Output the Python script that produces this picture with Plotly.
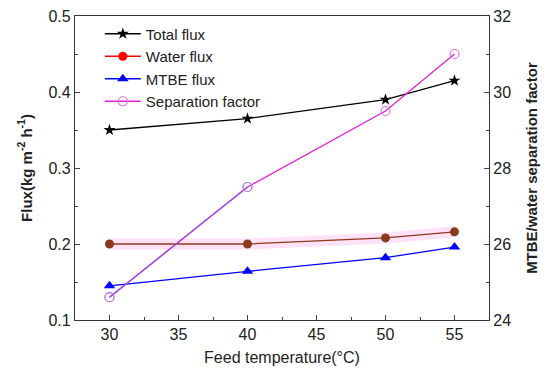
import plotly.graph_objects as go

temps = [30, 40, 50, 55]
total_flux = [0.350, 0.365, 0.390, 0.415]
water_flux = [0.200, 0.200, 0.208, 0.216]
mtbe_flux = [0.145, 0.164, 0.182, 0.196]
sep_factor = [24.6, 27.5, 29.5, 31.0]

FONT = "Liberation Sans, Arial, sans-serif"
fig = go.Figure()

# pink glow behind water flux line
fig.add_trace(go.Scatter(x=temps, y=water_flux, mode="lines", line=dict(color="rgba(255,170,235,0.35)", width=11),
                         showlegend=False, hoverinfo="skip"))
fig.add_trace(go.Scatter(x=temps, y=total_flux, mode="lines+markers", name="Total flux",
                         line=dict(color="black", width=1.3), marker=dict(symbol="star", size=9, color="black")))
fig.add_trace(go.Scatter(x=temps, y=water_flux, mode="lines+markers", name="Water flux", showlegend=False,
                         line=dict(color="#8a3a1a", width=1.3), marker=dict(symbol="circle", size=9, color="#8a3a1a")))
fig.add_trace(go.Scatter(x=[None], y=[None], mode="lines+markers", name="Water flux",
                         line=dict(color="red", width=1.3), marker=dict(symbol="circle", size=9, color="red")))
fig.add_trace(go.Scatter(x=temps, y=mtbe_flux, mode="lines+markers", name="MTBE flux",
                         line=dict(color="blue", width=1.3), marker=dict(symbol="triangle-up", size=10, color="blue")))
fig.add_trace(go.Scatter(x=temps, y=sep_factor, mode="lines+markers", name="Separation factor", yaxis="y2",
                         line=dict(color="#e020d8", width=1.3),
                         marker=dict(symbol="circle-open", size=9, color="#e070e0", line=dict(width=1.2))))
fig.add_trace(go.Scatter(x=temps[:2], y=sep_factor[:2], mode="lines+markers", yaxis="y2", showlegend=False,
                         line=dict(color="#9a50e0", width=1.3),
                         marker=dict(symbol="circle-open", size=9, color="#b090e0", line=dict(width=1.2))))

fig.update_layout(
    width=542, height=360,
    margin=dict(l=67, r=61, t=8, b=48),
    paper_bgcolor="white", plot_bgcolor="white",
    font=dict(family=FONT, size=16, color="#222"),
    showlegend=True,
    legend=dict(x=0.06, y=0.995, xanchor="left", yanchor="top", bgcolor="rgba(0,0,0,0)",
                font=dict(size=15), tracegroupgap=0, itemwidth=36),
    xaxis=dict(range=[27.5, 57.5], tickvals=[30, 35, 40, 45, 50, 55], ticks="inside", ticklen=5,
               minor=dict(ticks="inside", ticklen=3, dtick=2.5, tick0=27.5), automargin=False,
               ticklabeloverflow="allow",
               showline=True, linecolor="#333", linewidth=1.3, mirror=True, showgrid=False, zeroline=False,
               title=dict(text="Feed temperature(°C)", font=dict(size=16), standoff=9)),
    yaxis=dict(range=[0.1, 0.5], tickvals=[0.1, 0.2, 0.3, 0.4, 0.5], ticks="inside", ticklen=5,
               minor=dict(ticks="inside", ticklen=3, dtick=0.05, tick0=0.1), automargin=False,
               ticklabeloverflow="allow",
               showline=True, linecolor="#333", linewidth=1.3, showgrid=False, zeroline=False,
               title=dict(text="<b>Flux(kg m<sup>-2</sup> h<sup>-1</sup>)</b>", font=dict(size=15), standoff=12)),
    yaxis2=dict(range=[24, 32], tickvals=[24, 26, 28, 30, 32], ticks="inside", ticklen=5,
                minor=dict(ticks="inside", ticklen=3, dtick=1, tick0=24), automargin=False,
                ticklabeloverflow="allow",
                overlaying="y", side="right",
                showline=True, linecolor="#333", linewidth=1.3, showgrid=False, zeroline=False,
                title=dict(text="<b>MTBE/water separation factor</b>", font=dict(size=15), standoff=16)),
)

fig.write_html("out.html")
